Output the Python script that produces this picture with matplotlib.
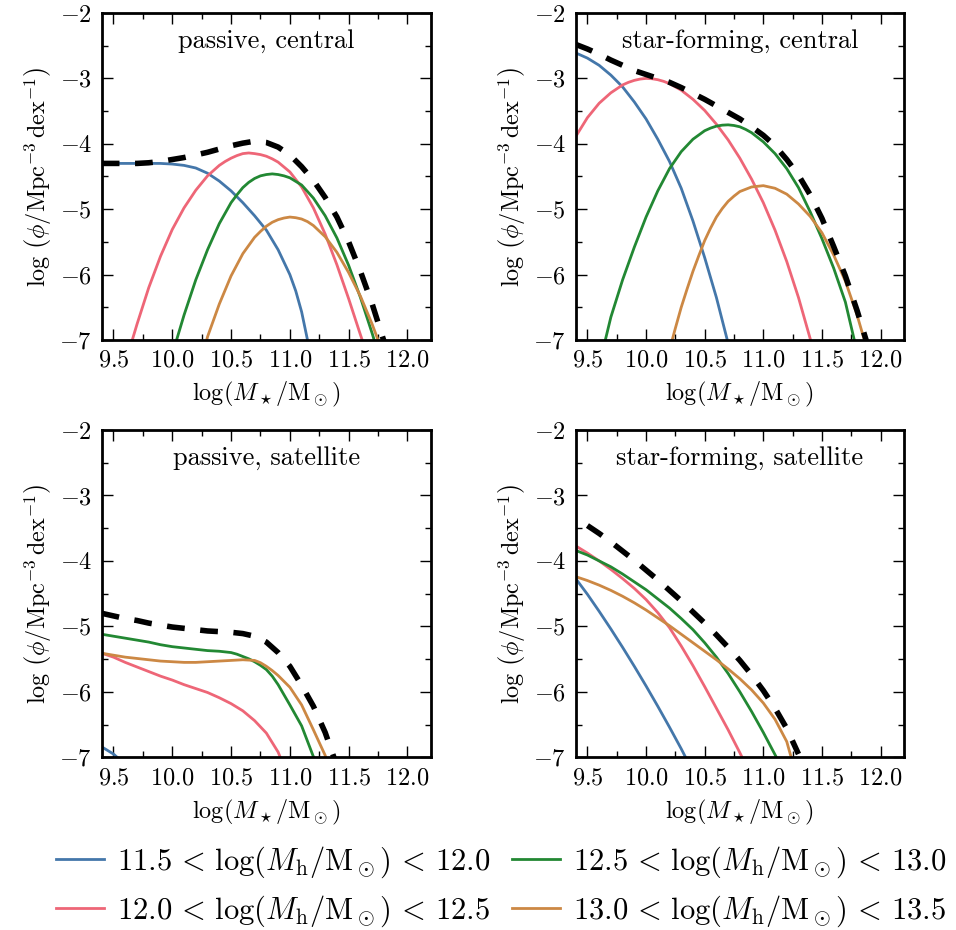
import matplotlib
matplotlib.use("Agg")
import matplotlib.pyplot as plt
from matplotlib.ticker import MultipleLocator, FormatStrFormatter

plt.rcParams['font.family'] = 'serif'
plt.rcParams['font.serif'] = ['cmr10']
plt.rcParams['mathtext.fontset'] = 'cm'
plt.rcParams['axes.formatter.use_mathtext'] = True
plt.rcParams['axes.unicode_minus'] = True

# ---------------- data ----------------
bin_labels = [r'$11.5\,<\,\log(M_\mathrm{h}/\mathrm{M}_\odot)\,<\,12.0$',
              r'$12.0\,<\,\log(M_\mathrm{h}/\mathrm{M}_\odot)\,<\,12.5$',
              r'$12.5\,<\,\log(M_\mathrm{h}/\mathrm{M}_\odot)\,<\,13.0$',
              r'$13.0\,<\,\log(M_\mathrm{h}/\mathrm{M}_\odot)\,<\,13.5$']
bin_colors = ['#4477AA', '#EE6677', '#228833', '#CC8844']
panel_titles = ['passive, central', 'star-forming, central',
                'passive, satellite', 'star-forming, satellite']

# passive, central
pc_blue_x = [9.4, 9.5, 9.6, 9.7, 9.8, 9.9, 10.0, 10.1, 10.2, 10.3, 10.4, 10.5, 10.6, 10.7, 10.8, 10.9, 11.0, 11.05, 11.1, 11.15]
pc_blue_y = [-4.30, -4.30, -4.30, -4.30, -4.30, -4.30, -4.31, -4.33, -4.37, -4.45, -4.57, -4.72, -4.90, -5.10, -5.32, -5.62, -6.00, -6.25, -6.57, -7.00]
pc_pink_x = [9.66, 9.7, 9.8, 9.9, 10.0, 10.1, 10.2, 10.3, 10.4, 10.45, 10.5, 10.55, 10.6, 10.65, 10.7, 10.75, 10.8, 10.85, 10.9, 11.0, 11.1, 11.2, 11.3, 11.4, 11.5, 11.6, 11.63]
pc_pink_y = [-7.0, -6.76, -6.20, -5.72, -5.31, -4.98, -4.71, -4.49, -4.33, -4.27, -4.22, -4.18, -4.15, -4.14, -4.15, -4.165, -4.19, -4.23, -4.28, -4.43, -4.66, -4.98, -5.38, -5.85, -6.37, -6.92, -7.08]
pc_green_x = [10.03, 10.1, 10.2, 10.3, 10.4, 10.5, 10.55, 10.6, 10.65, 10.7, 10.75, 10.8, 10.85, 10.9, 10.95, 11.0, 11.1, 11.2, 11.3, 11.4, 11.5, 11.6, 11.7, 11.73]
pc_green_y = [-7.04, -6.62, -6.08, -5.62, -5.22, -4.90, -4.78, -4.67, -4.59, -4.53, -4.49, -4.47, -4.46, -4.47, -4.49, -4.52, -4.63, -4.83, -5.10, -5.44, -5.86, -6.35, -6.90, -7.08]
pc_orange_x = [10.29, 10.3, 10.4, 10.5, 10.6, 10.7, 10.75, 10.8, 10.85, 10.9, 10.95, 11.0, 11.05, 11.1, 11.15, 11.2, 11.3, 11.4, 11.5, 11.6, 11.7, 11.76]
pc_orange_y = [-7.02, -6.95, -6.45, -6.02, -5.68, -5.43, -5.34, -5.26, -5.20, -5.16, -5.135, -5.12, -5.13, -5.15, -5.19, -5.25, -5.42, -5.66, -5.97, -6.33, -6.76, -7.05]
pc_total_x = [9.4, 9.5, 9.6, 9.7, 9.8, 9.9, 10.0, 10.1, 10.2, 10.3, 10.4, 10.5, 10.6, 10.7, 10.8, 10.9, 11.0, 11.1, 11.2, 11.3, 11.4, 11.5, 11.6, 11.7, 11.8]
pc_total_y = [-4.30, -4.30, -4.30, -4.30, -4.29, -4.27, -4.24, -4.21, -4.17, -4.13, -4.08, -4.03, -3.99, -3.96, -3.98, -4.05, -4.17, -4.35, -4.56, -4.82, -5.12, -5.50, -5.95, -6.45, -7.02]

# star-forming, central
sc_blue_x = [9.4, 9.5, 9.6, 9.7, 9.8, 9.9, 10.0, 10.1, 10.2, 10.3, 10.4, 10.5, 10.6, 10.7]
sc_blue_y = [-2.61, -2.69, -2.80, -2.95, -3.13, -3.36, -3.62, -3.93, -4.27, -4.68, -5.18, -5.74, -6.35, -7.05]
sc_pink_x = [9.4, 9.5, 9.6, 9.7, 9.8, 9.85, 9.9, 9.95, 10.0, 10.05, 10.1, 10.15, 10.2, 10.3, 10.4, 10.5, 10.6, 10.7, 10.8, 10.9, 11.0, 11.1, 11.2, 11.3, 11.4, 11.41]
sc_pink_y = [-3.89, -3.60, -3.38, -3.22, -3.10, -3.06, -3.03, -3.01, -3.00, -3.005, -3.02, -3.045, -3.08, -3.18, -3.32, -3.49, -3.70, -3.94, -4.22, -4.54, -4.90, -5.32, -5.80, -6.35, -6.98, -7.05]
sc_green_x = [9.65, 9.7, 9.8, 9.9, 10.0, 10.1, 10.2, 10.3, 10.4, 10.5, 10.55, 10.6, 10.65, 10.7, 10.75, 10.8, 10.85, 10.9, 11.0, 11.1, 11.2, 11.3, 11.4, 11.5, 11.6, 11.7, 11.78]
sc_green_y = [-7.02, -6.65, -6.08, -5.58, -5.12, -4.72, -4.38, -4.12, -3.93, -3.80, -3.76, -3.73, -3.715, -3.71, -3.72, -3.74, -3.78, -3.83, -3.97, -4.15, -4.38, -4.67, -5.04, -5.45, -5.90, -6.42, -7.03]
sc_orange_x = [10.22, 10.25, 10.3, 10.35, 10.4, 10.45, 10.5, 10.55, 10.6, 10.65, 10.7, 10.75, 10.8, 10.9, 11.0, 11.1, 11.2, 11.3, 11.4, 11.5, 11.6, 11.7, 11.8, 11.87]
sc_orange_y = [-7.02, -6.82, -6.50, -6.22, -5.95, -5.71, -5.48, -5.29, -5.12, -4.99, -4.88, -4.80, -4.73, -4.66, -4.64, -4.68, -4.77, -4.92, -5.11, -5.36, -5.70, -6.10, -6.62, -7.05]
sc_total_x = [9.4, 9.5, 9.6, 9.7, 9.8, 9.9, 10.0, 10.1, 10.2, 10.3, 10.4, 10.5, 10.6, 10.7, 10.8, 10.9, 11.0, 11.1, 11.2, 11.3, 11.4, 11.5, 11.6, 11.7, 11.8, 11.88]
sc_total_y = [-2.48, -2.55, -2.63, -2.72, -2.80, -2.88, -2.94, -3.00, -3.06, -3.14, -3.23, -3.32, -3.42, -3.52, -3.62, -3.74, -3.87, -4.03, -4.24, -4.48, -4.78, -5.14, -5.57, -6.02, -6.55, -7.02]

# passive, satellite
ps_blue_x = [9.4, 9.5, 9.55]
ps_blue_y = [-6.84, -6.95, -7.03]
ps_pink_x = [9.4, 9.5, 9.6, 9.7, 9.8, 9.9, 10.0, 10.1, 10.2, 10.3, 10.4, 10.5, 10.6, 10.7, 10.8, 10.9, 10.93]
ps_pink_y = [-5.41, -5.47, -5.55, -5.62, -5.69, -5.76, -5.82, -5.89, -5.95, -6.01, -6.09, -6.18, -6.29, -6.44, -6.63, -6.92, -7.05]
ps_green_x = [9.4, 9.5, 9.6, 9.7, 9.8, 9.9, 10.0, 10.1, 10.2, 10.3, 10.4, 10.5, 10.55, 10.6, 10.65, 10.7, 10.75, 10.8, 10.85, 10.9, 11.0, 11.1, 11.2, 11.22]
ps_green_y = [-5.12, -5.15, -5.18, -5.21, -5.24, -5.28, -5.31, -5.33, -5.35, -5.37, -5.38, -5.40, -5.425, -5.46, -5.495, -5.54, -5.595, -5.66, -5.76, -5.89, -6.20, -6.52, -6.99, -7.05]
ps_orange_x = [9.4, 9.5, 9.6, 9.7, 9.8, 9.9, 10.0, 10.1, 10.2, 10.3, 10.4, 10.5, 10.6, 10.7, 10.75, 10.8, 10.85, 10.9, 11.0, 11.1, 11.2, 11.3, 11.31]
ps_orange_y = [-5.41, -5.44, -5.47, -5.49, -5.51, -5.53, -5.54, -5.55, -5.55, -5.54, -5.53, -5.52, -5.51, -5.52, -5.555, -5.61, -5.675, -5.75, -5.93, -6.20, -6.58, -6.97, -7.03]
ps_total_x = [9.4, 9.5, 9.6, 9.7, 9.8, 9.9, 10.0, 10.1, 10.2, 10.3, 10.4, 10.5, 10.6, 10.7, 10.8, 10.9, 11.0, 11.1, 11.2, 11.3, 11.38]
ps_total_y = [-4.80, -4.84, -4.88, -4.91, -4.95, -4.98, -5.01, -5.03, -5.05, -5.07, -5.08, -5.09, -5.11, -5.15, -5.24, -5.40, -5.61, -5.90, -6.22, -6.62, -7.03]

# star-forming, satellite
ss_blue_x = [9.4, 9.5, 9.6, 9.7, 9.8, 9.9, 10.0, 10.1, 10.2, 10.3, 10.34]
ss_blue_y = [-4.27, -4.51, -4.77, -5.04, -5.32, -5.61, -5.91, -6.22, -6.54, -6.87, -7.01]
ss_pink_x = [9.4, 9.5, 9.6, 9.7, 9.8, 9.9, 10.0, 10.1, 10.2, 10.3, 10.4, 10.5, 10.6, 10.7, 10.8, 10.83]
ss_pink_y = [-3.77, -3.88, -4.00, -4.13, -4.27, -4.42, -4.59, -4.79, -5.02, -5.30, -5.60, -5.92, -6.25, -6.58, -6.93, -7.04]
ss_green_x = [9.4, 9.5, 9.6, 9.7, 9.8, 9.9, 10.0, 10.1, 10.2, 10.3, 10.4, 10.5, 10.6, 10.7, 10.8, 10.9, 11.0, 11.1, 11.12]
ss_green_y = [-3.84, -3.91, -4.00, -4.09, -4.20, -4.32, -4.44, -4.58, -4.72, -4.88, -5.05, -5.25, -5.47, -5.72, -6.00, -6.30, -6.62, -6.96, -7.03]
ss_orange_x = [9.4, 9.5, 9.6, 9.7, 9.8, 9.9, 10.0, 10.1, 10.2, 10.3, 10.4, 10.5, 10.6, 10.7, 10.8, 10.9, 11.0, 11.1, 11.2, 11.25]
ss_orange_y = [-4.24, -4.30, -4.37, -4.45, -4.54, -4.64, -4.75, -4.87, -4.99, -5.12, -5.25, -5.38, -5.51, -5.65, -5.80, -5.97, -6.17, -6.42, -6.76, -7.08]
ss_total_x = [9.5, 9.6, 9.7, 9.8, 9.9, 10.0, 10.1, 10.2, 10.3, 10.4, 10.5, 10.6, 10.7, 10.8, 10.9, 11.0, 11.1, 11.2, 11.3]
ss_total_y = [-3.46, -3.58, -3.71, -3.85, -3.99, -4.14, -4.29, -4.45, -4.61, -4.78, -4.95, -5.13, -5.32, -5.52, -5.74, -5.98, -6.25, -6.56, -6.95]

panels = [
    [(pc_blue_x, pc_blue_y), (pc_pink_x, pc_pink_y), (pc_green_x, pc_green_y), (pc_orange_x, pc_orange_y), (pc_total_x, pc_total_y)],
    [(sc_blue_x, sc_blue_y), (sc_pink_x, sc_pink_y), (sc_green_x, sc_green_y), (sc_orange_x, sc_orange_y), (sc_total_x, sc_total_y)],
    [(ps_blue_x, ps_blue_y), (ps_pink_x, ps_pink_y), (ps_green_x, ps_green_y), (ps_orange_x, ps_orange_y), (ps_total_x, ps_total_y)],
    [(ss_blue_x, ss_blue_y), (ss_pink_x, ss_pink_y), (ss_green_x, ss_green_y), (ss_orange_x, ss_orange_y), (ss_total_x, ss_total_y)],
]

# ---------------- figure ----------------
W, H = 956, 930
fig = plt.figure(figsize=(W / 100, H / 100), dpi=100)

boxes = [(101.7, 13, 431, 340), (575.7, 13, 904, 340),
         (101.7, 430, 431, 757.3), (575.7, 430, 904, 757.3)]

FS = 17.5
handles = []
for i, (l, t, r, b) in enumerate(boxes):
    ax = fig.add_axes([l / W, (H - b) / H, (r - l) / W, (b - t) / H])
    series = panels[i]
    for j in range(4):
        xs, ys = series[j]
        ln, = ax.plot(xs, ys, color=bin_colors[j], lw=2.0, label=bin_labels[j],
                      solid_joinstyle='round')
        if i == 0:
            handles.append(ln)
    xs, ys = series[4]
    ax.plot(xs, ys, color='black', lw=4.0, ls=(0, (3.2, 2.8)), dash_capstyle='butt')
    ax.set_xlim(9.4, 12.2)
    ax.set_ylim(-7, -2)
    ax.xaxis.set_major_locator(MultipleLocator(0.5))
    ax.xaxis.set_minor_locator(MultipleLocator(0.25))
    ax.yaxis.set_major_locator(MultipleLocator(1))
    ax.yaxis.set_minor_locator(MultipleLocator(0.5))
    ax.xaxis.set_major_formatter(FormatStrFormatter(r'$%.1f$'))
    ax.yaxis.set_major_formatter(FormatStrFormatter(r'$%d$'))
    ax.tick_params(which='both', direction='in', top=True, right=True, labelsize=FS)
    ax.tick_params(which='major', length=8, width=1.0, pad=7)
    ax.tick_params(which='minor', length=4, width=1.0)
    for sp in ax.spines.values():
        sp.set_linewidth(2.0)
    ax.set_xlabel(r'$\log(M_\star/\mathrm{M}_\odot)$', fontsize=FS, labelpad=6)
    ax.set_ylabel(r'$\log\,\left(\phi/\mathrm{Mpc}^{-3}\,\mathrm{dex}^{-1}\right)$', fontsize=FS, labelpad=4)
    ax.text(0.5, 0.915, panel_titles[i], transform=ax.transAxes, ha='center', va='center', fontsize=19)

fig.legend(handles=handles, labels=bin_labels, loc='center', bbox_to_anchor=(501 / W, 1 - 887 / H),
           ncol=2, frameon=False, fontsize=22, handlelength=1.57, handletextpad=0.43,
           columnspacing=0.72, labelspacing=0.45)

fig.savefig('out.png', dpi=100)
